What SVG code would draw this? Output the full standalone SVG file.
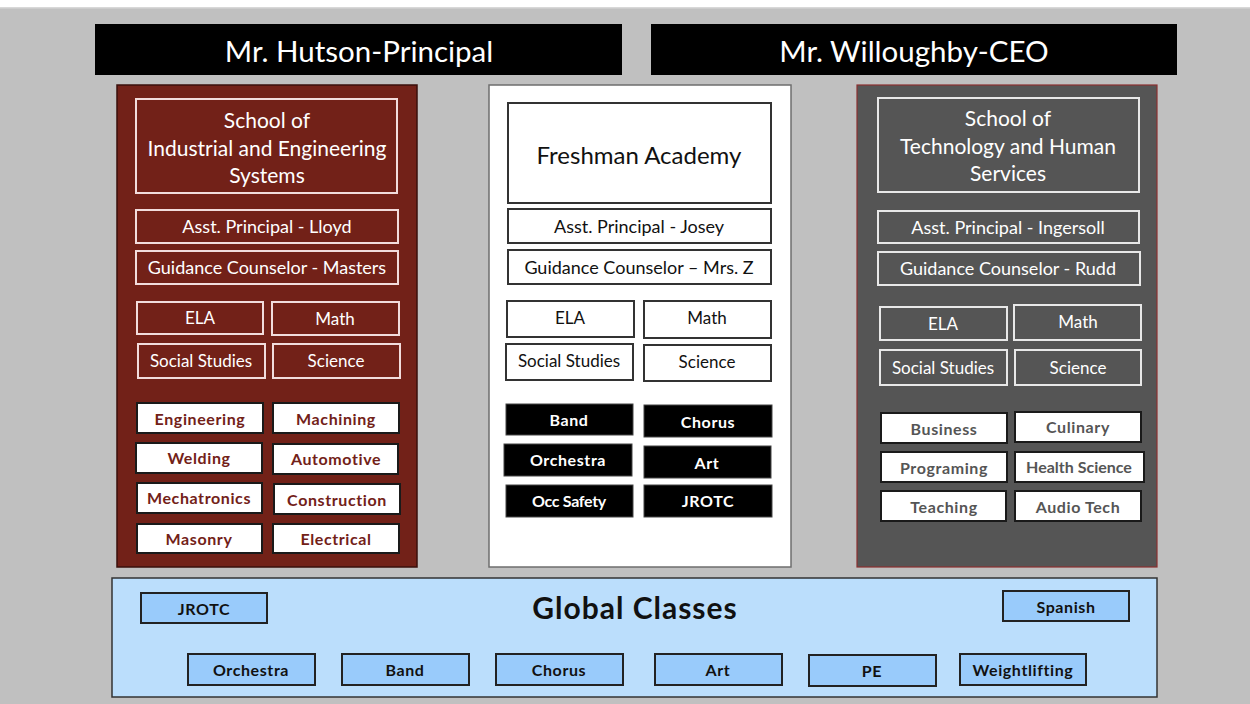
<svg xmlns="http://www.w3.org/2000/svg" width="1250" height="704" viewBox="0 0 1250 704">
<style>
text{font-family:Lato,"Open Sans","Liberation Sans",sans-serif;text-anchor:middle;dominant-baseline:central}
.hdr{fill:#000}
.hdrt{fill:#fff;font-size:29.5px}
.lp{fill:#722118;stroke:#3a0f0b;stroke-width:1.5}
.rp{fill:#555;stroke:#8b3030;stroke-width:1.2}
.mp{fill:#fff;stroke:#6e6e6e;stroke-width:1.5}
.lbox{fill:none;stroke:#f2dcdc;stroke-width:2}
.rbox{fill:none;stroke:#e8e8e8;stroke-width:2}
.mbox{fill:#fff;stroke:#333;stroke-width:2}
.trade{fill:#fff;stroke:#1a1a1a;stroke-width:2}
.blk{fill:#000;stroke:#444;stroke-width:1}
.gp{fill:#bbdefc;stroke:#333;stroke-width:1.5}
.gb{fill:#99cbfb;stroke:#222;stroke-width:2}
.wt{fill:#fff}
.dt{fill:#111}
.t20{font-size:21px}
.t17{font-size:18px}
.t16{font-size:17px}
.b15{font-size:16px;font-weight:bold;letter-spacing:0.6px}
.red{fill:#722118}
.gry{fill:#555}
.bw{fill:#fff}
.bk{fill:#111}
</style>
<rect x="0" y="0" width="1250" height="704" fill="#c0c0c0"/>
<rect x="0" y="0" width="1250" height="7" fill="#fff"/>
<rect x="0" y="7" width="1250" height="1.5" fill="#d8d8d8"/>

<g id="hutson"><rect class="hdr" x="95" y="24" width="527" height="51"/><text class="hdrt" x="359" y="50">Mr. Hutson-Principal</text></g>
<g id="willoughby"><rect class="hdr" x="651" y="24" width="526" height="51"/><text class="hdrt" x="914" y="50">Mr. Willoughby-CEO</text></g>

<g id="left-panel">
<rect class="lp" x="117" y="85" width="300" height="482"/>
<g id="l-title"><rect class="lbox" x="136" y="99" width="261" height="94"/>
<text class="wt t20" x="267" y="119">School of</text><text class="wt t20" x="267" y="147">Industrial and Engineering</text><text class="wt t20" x="267" y="174">Systems</text></g>
<g id="l-ap"><rect class="lbox" x="136" y="210" width="262" height="33"/><text class="wt t17" x="267" y="226">Asst. Principal - Lloyd</text></g>
<g id="l-gc"><rect class="lbox" x="136" y="251" width="262" height="33"/><text class="wt t17" x="267" y="267">Guidance Counselor - Masters</text></g>
<g id="l-ela"><rect class="lbox" x="137" y="302" width="126" height="32"/><text class="wt t16" x="200" y="317">ELA</text></g>
<g id="l-math"><rect class="lbox" x="272" y="302" width="127" height="33"/><text class="wt t16" x="335" y="318">Math</text></g>
<g id="l-ss"><rect class="lbox" x="138" y="344" width="127" height="34"/><text class="wt t16" x="201" y="360">Social Studies</text></g>
<g id="l-sci"><rect class="lbox" x="273" y="344" width="127" height="34"/><text class="wt t16" x="336" y="360">Science</text></g>
<g id="l-eng"><rect class="trade" x="137" y="403" width="126" height="30"/><text class="red b15" x="200" y="418">Engineering</text></g>
<g id="l-mach"><rect class="trade" x="273" y="403" width="126" height="30"/><text class="red b15" x="336" y="418">Machining</text></g>
<g id="l-weld"><rect class="trade" x="136" y="443" width="126" height="30"/><text class="red b15" x="199" y="457">Welding</text></g>
<g id="l-auto"><rect class="trade" x="273" y="444" width="125" height="30"/><text class="red b15" x="336" y="458">Automotive</text></g>
<g id="l-mech"><rect class="trade" x="137" y="483" width="125" height="30"/><text class="red b15" x="199" y="497">Mechatronics</text></g>
<g id="l-cons"><rect class="trade" x="274" y="484" width="126" height="30"/><text class="red b15" x="337" y="499">Construction</text></g>
<g id="l-mas"><rect class="trade" x="137" y="524" width="125" height="29"/><text class="red b15" x="199" y="538">Masonry</text></g>
<g id="l-elec"><rect class="trade" x="273" y="524" width="126" height="29"/><text class="red b15" x="336" y="538">Electrical</text></g>
</g>

<g id="mid-panel">
<rect class="mp" x="489" y="85" width="302" height="482"/>
<g id="m-title"><rect class="mbox" x="508" y="103" width="263" height="100"/><text class="dt" style="font-size:24px" x="639" y="154">Freshman Academy</text></g>
<g id="m-ap"><rect class="mbox" x="508" y="209" width="263" height="34"/><text class="dt t17" x="639" y="226">Asst. Principal - Josey</text></g>
<g id="m-gc"><rect class="mbox" x="508" y="250" width="263" height="34"/><text class="dt t17" x="639" y="267">Guidance Counselor – Mrs. Z</text></g>
<g id="m-ela"><rect class="mbox" x="507" y="301" width="127" height="36"/><text class="dt t16" x="570" y="317">ELA</text></g>
<g id="m-math"><rect class="mbox" x="644" y="301" width="127" height="37"/><text class="dt t16" x="707" y="317">Math</text></g>
<g id="m-ss"><rect class="mbox" x="506" y="344" width="127" height="36"/><text class="dt t16" x="569" y="360">Social Studies</text></g>
<g id="m-sci"><rect class="mbox" x="644" y="345" width="127" height="36"/><text class="dt t16" x="707" y="361">Science</text></g>
<g id="m-band"><rect class="blk" x="506" y="404" width="127" height="31"/><text class="bw b15" x="569" y="419">Band</text></g>
<g id="m-chorus"><rect class="blk" x="644" y="405" width="128" height="32"/><text class="bw b15" x="708" y="421">Chorus</text></g>
<g id="m-orch"><rect class="blk" x="504" y="444" width="128" height="32"/><text class="bw b15" x="568" y="459">Orchestra</text></g>
<g id="m-art"><rect class="blk" x="644" y="446" width="127" height="32"/><text class="bw b15" x="707" y="462">Art</text></g>
<g id="m-occ"><rect class="blk" x="506" y="485" width="127" height="32"/><text class="bw b15" x="569" y="500" style="letter-spacing:-0.3px">Occ Safety</text></g>
<g id="m-jrotc"><rect class="blk" x="644" y="485" width="128" height="32"/><text class="bw b15" x="708" y="500">JROTC</text></g>
</g>

<g id="right-panel">
<rect class="rp" x="857" y="85" width="300" height="482"/>
<g id="r-title"><rect class="rbox" x="878" y="98" width="261" height="94"/>
<text class="wt t20" x="1008" y="117">School of</text><text class="wt t20" x="1008" y="145">Technology and Human</text><text class="wt t20" x="1008" y="172">Services</text></g>
<g id="r-ap"><rect class="rbox" x="878" y="211" width="261" height="32"/><text class="wt t17" x="1008" y="227">Asst. Principal - Ingersoll</text></g>
<g id="r-gc"><rect class="rbox" x="878" y="252" width="262" height="33"/><text class="wt t17" x="1008" y="268">Guidance Counselor - Rudd</text></g>
<g id="r-ela"><rect class="rbox" x="880" y="307" width="127" height="33"/><text class="wt t16" x="943" y="323">ELA</text></g>
<g id="r-math"><rect class="rbox" x="1014" y="305" width="127" height="35"/><text class="wt t16" x="1078" y="321">Math</text></g>
<g id="r-ss"><rect class="rbox" x="880" y="350" width="127" height="35"/><text class="wt t16" x="943" y="367">Social Studies</text></g>
<g id="r-sci"><rect class="rbox" x="1015" y="350" width="126" height="35"/><text class="wt t16" x="1078" y="367">Science</text></g>
<g id="r-bus"><rect class="trade" x="881" y="413" width="126" height="30"/><text class="gry b15" x="944" y="428">Business</text></g>
<g id="r-cul"><rect class="trade" x="1015" y="412" width="126" height="30"/><text class="gry b15" x="1078" y="426">Culinary</text></g>
<g id="r-prog"><rect class="trade" x="881" y="452" width="126" height="30"/><text class="gry b15" x="944" y="467">Programing</text></g>
<g id="r-hs"><rect class="trade" x="1015" y="452" width="129" height="30"/><text class="gry b15" x="1079" y="466" style="letter-spacing:0px">Health Science</text></g>
<g id="r-teach"><rect class="trade" x="881" y="491" width="125" height="30"/><text class="gry b15" x="944" y="506">Teaching</text></g>
<g id="r-audio"><rect class="trade" x="1015" y="491" width="126" height="30"/><text class="gry b15" x="1078" y="506">Audio Tech</text></g>
</g>

<g id="global">
<rect class="gp" x="112" y="578" width="1045" height="119"/>
<text class="bk" style="font-size:30px;font-weight:bold;letter-spacing:1px" x="635" y="607">Global Classes</text>
<g id="g-jrotc"><rect class="gb" x="141" y="593" width="126" height="30"/><text class="bk b15" x="204" y="608">JROTC</text></g>
<g id="g-spanish"><rect class="gb" x="1003" y="591" width="126" height="30"/><text class="bk b15" x="1066" y="606">Spanish</text></g>
<g id="g-orch"><rect class="gb" x="188" y="654" width="127" height="31"/><text class="bk b15" x="251" y="669">Orchestra</text></g>
<g id="g-band"><rect class="gb" x="342" y="654" width="127" height="31"/><text class="bk b15" x="405" y="669">Band</text></g>
<g id="g-chorus"><rect class="gb" x="496" y="654" width="127" height="31"/><text class="bk b15" x="559" y="669">Chorus</text></g>
<g id="g-art"><rect class="gb" x="655" y="654" width="127" height="31"/><text class="bk b15" x="718" y="669">Art</text></g>
<g id="g-pe"><rect class="gb" x="809" y="655" width="127" height="31"/><text class="bk b15" x="872" y="670">PE</text></g>
<g id="g-wl"><rect class="gb" x="960" y="654" width="126" height="31"/><text class="bk b15" x="1023" y="669">Weightlifting</text></g>
</g>

<g id="connectors"></g>
</svg>
